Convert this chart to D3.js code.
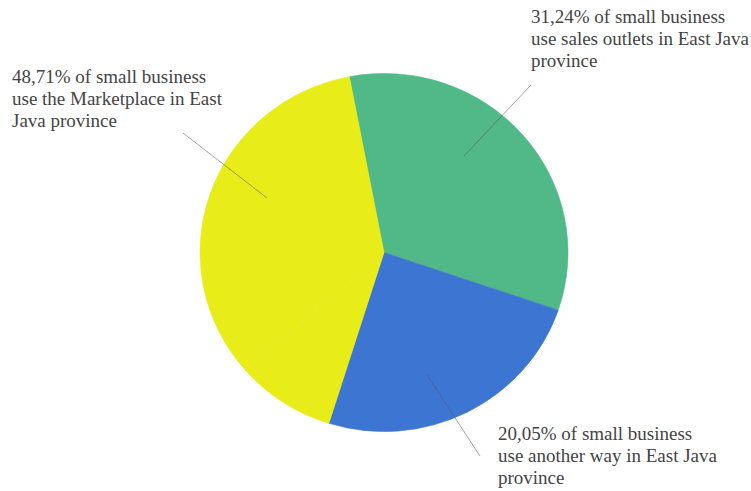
<!DOCTYPE html>
<html>
<head>
  <meta charset="utf-8">
  <title>Small business sales channels, East Java</title>
  <script src="https://cdn.jsdelivr.net/npm/d3@7/dist/d3.min.js"></script>
  <style>
    body { margin: 0; background: #fff; }
    text.lbl { font-family: "Liberation Serif", "Times New Roman", serif; font-size: 19px; fill: #444; }
    line.leader { stroke: #555; stroke-opacity: 0.55; stroke-width: 1; }
  </style>
</head>
<body>
  <svg id="chart" width="751" height="491"></svg>
  <script>
    // slice shares as drawn (yellow is drawn in two pieces, hence the faint seam)
    var categories = ['Sales outlets', 'Another way', 'Marketplace (a)', 'Marketplace (b)'];
    var shares = [33.2, 24.6, 8.7, 33.4];
    var colors = ['#50b987', '#3d76d2', '#e8ed1a', '#e8ed1a'];

    var labelLines = [
      ['31,24% of small business', 'use sales outlets in East Java', 'province'],
      ['20,05% of small business', 'use another way in East Java', 'province'],
      ['48,71% of small business', 'use the Marketplace in East', 'Java province']
    ];
    var labelPos = [[531, 23], [498, 440], [12, 83]];
    var leaders = [[[464, 156], [531, 85]], [[427, 375], [480, 456]], [[267, 198], [183, 133]]];

    var cx = 384, cy = 252.5, r = 184, squash = 0.973;
    var svg = d3.select('#chart');

    var pie = d3.pie().sort(null)
      .startAngle(-10.86 * Math.PI / 180)
      .endAngle((360 - 10.86) * Math.PI / 180);
    var arc = d3.arc().innerRadius(0).outerRadius(r);

    var g = svg.append('g')
      .attr('transform', 'translate(' + cx + ',' + cy + ') scale(1,' + squash + ')');

    g.selectAll('path')
      .data(pie(shares))
      .enter()
      .append('path')
      .attr('d', arc)
      .attr('fill', (d, i) => colors[i])
      .attr('stroke', (d, i) => colors[i])
      .attr('stroke-width', 0.6)
      .attr('stroke-linejoin', 'round');

    svg.selectAll('line.leader')
      .data(leaders)
      .enter()
      .append('line')
      .attr('class', 'leader')
      .attr('x1', d => d[0][0]).attr('y1', d => d[0][1])
      .attr('x2', d => d[1][0]).attr('y2', d => d[1][1]);

    var txt = svg.selectAll('text.lbl')
      .data(labelLines)
      .enter()
      .append('text')
      .attr('class', 'lbl')
      .attr('x', (d, i) => labelPos[i][0])
      .attr('y', (d, i) => labelPos[i][1]);

    txt.selectAll('tspan')
      .data(d => d)
      .enter()
      .append('tspan')
      .attr('x', function () { return this.parentNode.getAttribute('x'); })
      .attr('dy', (d, i) => i === 0 ? 0 : 22)
      .text(d => d);
  </script>
</body>
</html>
